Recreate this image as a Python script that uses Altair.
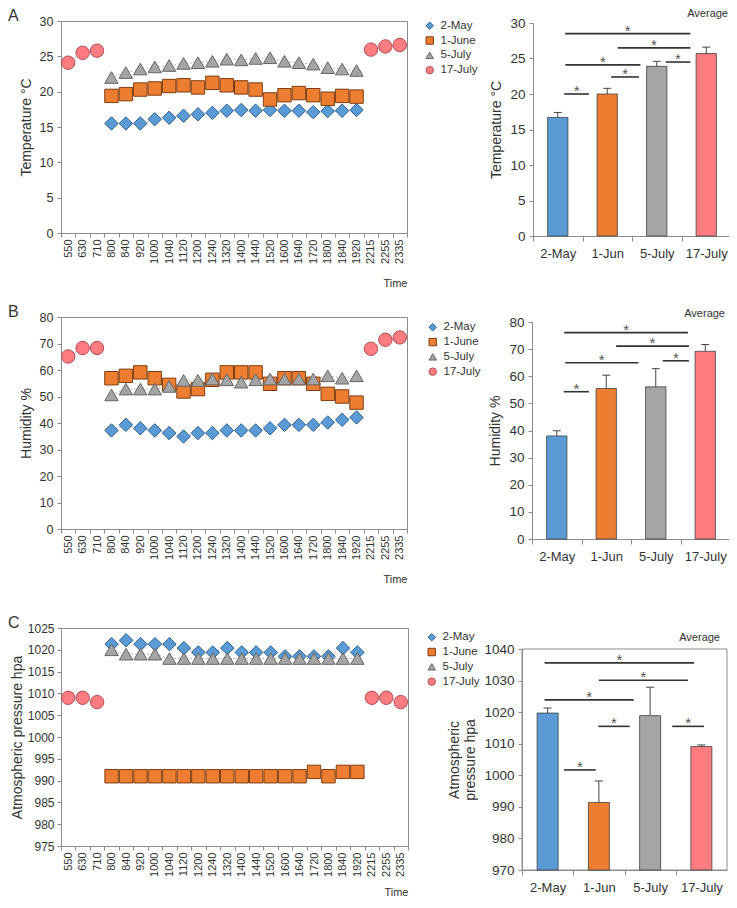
import json
import altair as alt
import pandas as pd

FONT = "Liberation Sans"
TXT = "#333333"
AX = "#8c8c8c"

# ---------------- data ----------------
dates = ["2-May", "1-June", "5-July", "17-July"]
bar_names = ["2-May", "1-Jun", "5-July", "17-July"]
times = ["550", "630", "710", "800", "840", "920", "1000", "1040", "1120", "1200",
         "1240", "1320", "1400", "1440", "1520", "1600", "1640", "1720", "1800",
         "1840", "1920", "2215", "2255", "2335"]
day_times = times[3:21]
night_times = times[:3] + times[21:]

# Temperature (deg C)
temp_may = [15.5, 15.5, 15.5, 16.1, 16.3, 16.6, 16.8, 17.0, 17.3, 17.4, 17.3, 17.4, 17.3, 17.3, 17.1, 17.25, 17.3, 17.4]
temp_june = [19.4, 19.65, 20.3, 20.45, 20.8, 20.9, 20.6, 21.25, 20.9, 20.6, 20.3, 18.9, 19.5, 19.8, 19.5, 19.0, 19.4, 19.3]
temp_july5 = [22.0, 22.7, 23.2, 23.5, 23.7, 24.0, 24.1, 24.3, 24.6, 24.5, 24.7, 24.8, 24.3, 24.1, 23.9, 23.4, 23.2, 23.0]
temp_july17 = [24.1, 25.5, 25.8, 25.95, 26.4, 26.6]
temp_mean = [16.7, 20.0, 23.9, 25.7]
temp_err = [0.7, 0.8, 0.7, 0.9]
temp_sig_from = [0.15, 1.21, 0.155, 2.18, 1.08, 0.13]
temp_sig_to = [2.68, 2.68, 1.67, 2.68, 1.64, 0.63]
temp_sig_y = [28.5, 26.5, 24.1, 24.5, 22.4, 20.0]

# Humidity (%)
hum_may = [37.2, 39.3, 38.0, 37.2, 36.2, 34.9, 36.2, 36.2, 37.2, 37.2, 37.2, 38.0, 39.3, 39.3, 39.3, 40.2, 41.2, 42.1]
hum_june = [56.9, 57.8, 59.1, 56.9, 54.4, 51.9, 52.8, 56.3, 59.1, 59.1, 59.1, 54.8, 56.9, 56.9, 54.8, 51.0, 50.0, 47.7]
hum_july5 = [50.6, 52.8, 52.8, 52.8, 53.8, 56.1, 56.1, 56.6, 56.3, 55.4, 56.3, 56.6, 56.6, 56.6, 56.6, 57.8, 56.9, 57.8]
hum_july17 = [65.1, 68.3, 68.3, 68.0, 71.4, 72.3]
hum_mean = [38.0, 55.5, 56.1, 69.2]
hum_err = [1.9, 4.9, 6.7, 2.5]
hum_sig_from = [0.15, 1.2, 0.17, 2.14, 0.14]
hum_sig_to = [2.65, 2.67, 1.65, 2.67, 0.65]
hum_sig_y = [76.1, 71.1, 65.0, 65.7, 54.3]

# Atmospheric pressure (hPa)
pres_may = [1021.3, 1022.2, 1021.3, 1021.3, 1021.3, 1020.4, 1019.4, 1019.4, 1020.4, 1019.4, 1019.4, 1019.4, 1018.5, 1018.5, 1018.5, 1018.5, 1020.4, 1019.4]
pres_june = [991, 991, 991, 991, 991, 991, 991, 991, 991, 991, 991, 991, 991, 991, 992, 991, 992, 992]
pres_july5 = [1020, 1019, 1019, 1019, 1018, 1018, 1018, 1018, 1018, 1018, 1018, 1018, 1018, 1018, 1018, 1018, 1018, 1018]
pres_july17 = [1009, 1009, 1008, 1009, 1009, 1008]
pres_mean = [1019.7, 991.4, 1018.9, 1009.1]
pres_err = [1.6, 6.8, 9.0, 0.5]
pres_sig_from = [-0.06, 1.0, -0.06, 0.99, 2.43, 0.32]
pres_sig_to = [2.86, 2.74, 1.68, 1.6, 3.05, 0.94]
pres_sig_y = [1035.6, 1030.1, 1023.9, 1015.5, 1015.5, 1001.7]

# ---------------- styles ----------------
marker_fill = ["#5b9bd5", "#ed7d31", "#a5a5a5", "#ff7c80"]
marker_stroke = ["#2f5f93", "#7e3d10", "#666666", "#b04d58"]
marker_shape = ["diamond", "square", "triangle-up", "circle"]
line_color = ["#8db6e3", "#f0a070", "#b5b5b5", "#ff9ea2"]
bar_fill = ["#5b9bd5", "#ed7d31", "#a5a5a5", "#ff7c80"]


def left_panel(label, ytitle, ydom, ystep, series, width, height, lx, ly,
               ylab_size=12.5, ylab_pad=4, ytitle_pad=6, time_pad=14):
    rows = []
    for date, ts, vals in series:
        for t, v in zip(ts, vals):
            seg = "a" if t in times[:3] else ("c" if t in times[21:] else "b")
            rows.append({"time": t, "idx": times.index(t), "value": v, "date": date, "seg": seg})
    df = pd.DataFrame(rows)
    x = alt.X("time:N",
              scale=alt.Scale(type="band", domain=times, paddingInner=0, paddingOuter=0),
              axis=alt.Axis(title="Time", labelAngle=270, tickBand="extent", titleAnchor="end",
                            titleFontSize=11, titlePadding=time_pad, labelFontSize=11,
                            labelPadding=2, tickSize=4, labelOverlap=False, grid=False))
    yvals = list(range(ydom[0], ydom[1] + 1, ystep))
    y = alt.Y("value:Q", scale=alt.Scale(domain=ydom, nice=False, zero=False),
              axis=alt.Axis(title=ytitle, values=yvals, format="d", grid=False, tickSize=4,
                            labelFontSize=ylab_size, titleFontSize=14, labelPadding=ylab_pad,
                            titlePadding=ytitle_pad))
    leg = alt.Legend(orient="none", legendX=lx, legendY=ly, title=None, labelFontSize=11.5,
                     symbolSize=55, rowPadding=1.8, labelOffset=5, symbolStrokeWidth=1,
                     padding=0)
    base = alt.Chart(df)
    layers = []
    for d, lc in zip(dates, line_color):
        layers.append(base.transform_filter(alt.datum.date == d).mark_line(
            strokeDash=[2, 2], strokeWidth=1, color=lc).encode(
            x=x, y=y, detail="seg:N", order=alt.Order("idx:Q")))
    layers.append(base.mark_point(filled=True, opacity=1, size=180, strokeWidth=1).encode(
        x=x, y=y,
        shape=alt.Shape("date:N", scale=alt.Scale(domain=dates, range=marker_shape), legend=leg),
        fill=alt.Fill("date:N", scale=alt.Scale(domain=dates, range=marker_fill), legend=leg),
        stroke=alt.Stroke("date:N", scale=alt.Scale(domain=dates, range=marker_stroke), legend=leg)))
    return alt.layer(*layers).properties(
        width=width, height=height,
        title=alt.TitleParams(label, anchor="start", frame="group", fontSize=16,
                              fontWeight="normal", dx=-53, dy=9, offset=0, color=TXT),
        view=alt.ViewBackground(stroke=AX, strokeWidth=1))


def right_panel(ytitle, ydom, ystep, means, errs, sig_from, sig_to, sig_y,
                gw, gh, xr, yr, xoff, yoff, boxed, tdx, tdy):
    df = pd.DataFrame({"i": [0, 1, 2, 3], "name": bar_names, "mean": means, "err": errs})
    sig = pd.DataFrame({"x1": sig_from, "x2": sig_to, "y": sig_y})
    band = (xr[1] - xr[0]) / 4.0
    names = json.dumps(bar_names).replace('"', "'")
    xscale = alt.Scale(domain=[-0.5, 3.5], nice=False, zero=False, range=xr)
    xaxis = alt.Axis(values=[-0.5, 0.5, 1.5, 2.5],
                     labelExpr=f"{names}[floor(datum.value + 0.5)]",
                     labelOffset=band / 2, title=None, grid=False, tickSize=5, labelFontSize=13,
                     labelPadding=6, labelOverlap=False, labelFlush=False, offset=xoff)
    yvals = list(range(ydom[0], ydom[1] + 1, ystep))
    yscale = alt.Scale(domain=ydom, nice=False, zero=False, range=yr)
    yaxis = alt.Axis(title=ytitle, values=yvals, format="d", grid=False, tickSize=4,
                     labelFontSize=13.5, titleFontSize=14, labelPadding=4, titlePadding=6,
                     titleLineHeight=16, offset=yoff)

    def X(f):
        return alt.X(f"{f}:Q", scale=xscale, axis=xaxis)

    def Y(f):
        return alt.Y(f"{f}:Q", scale=yscale, axis=yaxis)

    layers = []
    if boxed:
        frame = pd.DataFrame({"x0": [-0.5], "x1": [3.5], "y0": [ydom[0]], "y1": [ydom[1]]})
        layers.append(alt.Chart(frame).mark_rect(fillOpacity=0, stroke=AX, strokeWidth=1).encode(
            x=X("x0"), x2="x1:Q", y=Y("y0"), y2="y1:Q"))
    layers.append(alt.Chart(df).transform_calculate(
        xa="datum.i - 0.205", xb="datum.i + 0.205"
    ).mark_bar(stroke="#404040", strokeWidth=0.8).encode(
        x=X("xa"), x2="xb:Q", y=Y("mean"), y2=alt.datum(ydom[0]),
        fill=alt.Fill("name:N", scale=alt.Scale(domain=bar_names, range=bar_fill), legend=None)))
    layers.append(alt.Chart(df).transform_calculate(top="datum.mean + datum.err").mark_rule(
        color="#444444", strokeWidth=1).encode(x=X("i"), y=Y("mean"), y2="top:Q"))
    layers.append(alt.Chart(df).transform_calculate(
        top="datum.mean + datum.err", ca="datum.i - 0.08", cb="datum.i + 0.08"
    ).mark_rule(color="#444444", strokeWidth=1).encode(x=X("ca"), x2="cb:Q", y=Y("top")))
    layers.append(alt.Chart(sig).mark_rule(color="#333333", strokeWidth=1.6).encode(
        x=X("x1"), x2="x2:Q", y=Y("y")))
    layers.append(alt.Chart(sig).transform_calculate(xm="(datum.x1 + datum.x2) / 2").mark_text(
        text="*", fontSize=15, baseline="alphabetic", dy=2, color="#555555").encode(
        x=X("xm"), y=Y("y")))
    return alt.layer(*layers).properties(
        width=gw, height=gh,
        title=alt.TitleParams("Average", anchor="end", frame="group", fontSize=11,
                              fontWeight="normal", offset=0, dx=tdx, dy=tdy, color=TXT),
        view=alt.ViewBackground(stroke="transparent"))


left_a = left_panel("A", "Temperature °C", [0, 30], 5,
                    [("2-May", day_times, temp_may), ("1-June", day_times, temp_june),
                     ("5-July", day_times, temp_july5), ("17-July", night_times, temp_july17)],
                    346, 212, 363, -1)
left_b = left_panel("B", "Humidity %", [0, 80], 10,
                    [("2-May", day_times, hum_may), ("1-June", day_times, hum_june),
                     ("5-July", day_times, hum_july5), ("17-July", night_times, hum_july17)],
                    346, 212, 366, 4.5)
left_c = left_panel("C", "Atmospheric pressure hpa", [975, 1025], 5,
                    [("2-May", day_times, pres_may), ("1-June", day_times, pres_june),
                     ("5-July", day_times, pres_july5), ("17-July", night_times, pres_july17)],
                    347, 218, 365, 3.5, ylab_size=12, ylab_pad=3, ytitle_pad=3, time_pad=10)

right_a = right_panel("Temperature °C", [0, 30], 5, temp_mean, temp_err,
                      temp_sig_from, temp_sig_to, temp_sig_y,
                      211, 215, [11, 209], [215, 2], 0, -11, False, -5, 3)
right_b = right_panel("Humidity %", [0, 80], 10, hum_mean, hum_err,
                      hum_sig_from, hum_sig_to, hum_sig_y,
                      212, 230, [10, 208], [222, 5], -8, -10, False, -9, 3.5)
right_c = right_panel(["Atmospheric", "pressure hpa"], [970, 1040], 10, pres_mean, pres_err,
                      pres_sig_from, pres_sig_to, pres_sig_y,
                      206, 242, [0, 205], [242, 21], 0, 0, True, -8, 14.5)

chart = alt.concat(
    left_a, right_a, left_b, right_b, left_c, right_c,
    columns=2, spacing={"row": 81, "column": 114}, bounds="flush"
).resolve_scale(
    x="independent", y="independent", fill="independent",
    stroke="independent", shape="independent"
).properties(
    autosize=alt.AutoSizeParams(type="none"),
    padding={"left": 53, "top": 13, "right": 668, "bottom": 879}
).configure(font=FONT, background="white").configure_axis(
    labelColor=TXT, titleColor=TXT, domainColor=AX, tickColor=AX,
    titleFontWeight="normal", labelFont=FONT, titleFont=FONT
).configure_legend(labelColor=TXT, labelFont=FONT).configure_title(font=FONT)

chart.save("out.html", embed_options={"renderer": "svg", "actions": False})
